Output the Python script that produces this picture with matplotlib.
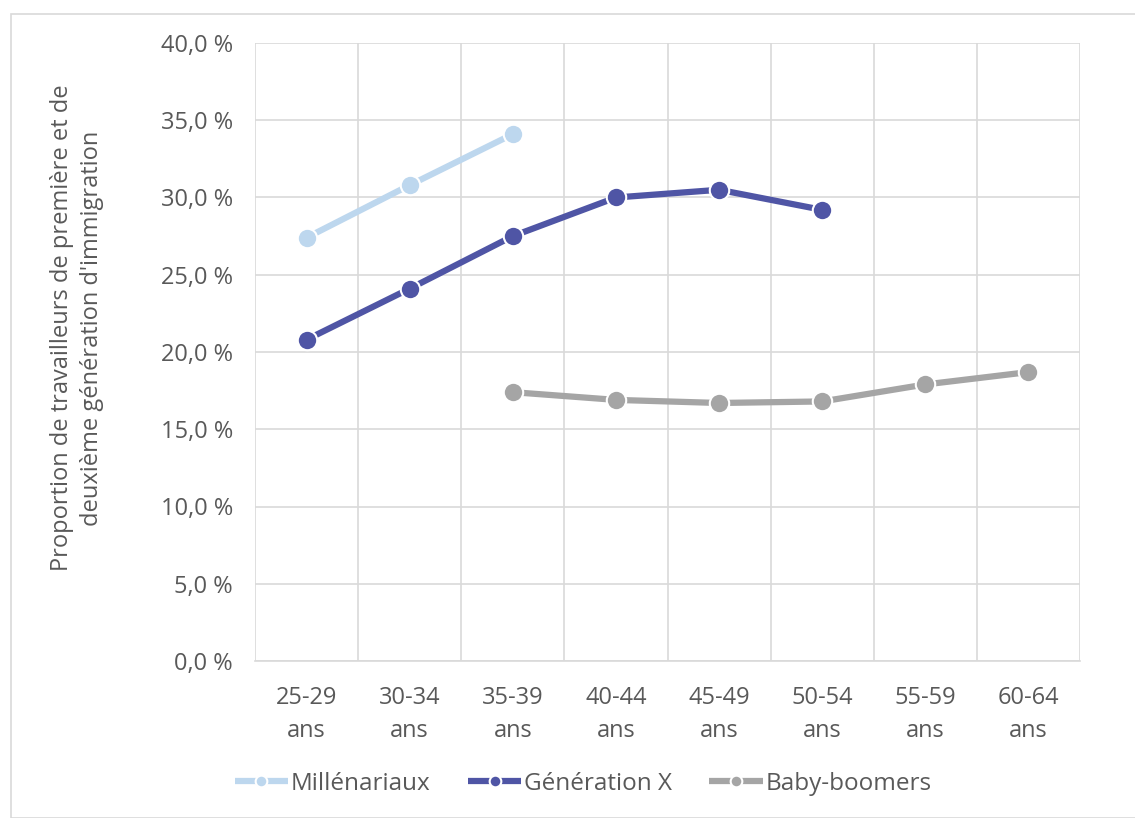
import matplotlib
matplotlib.use("Agg")
import matplotlib.pyplot as plt
from matplotlib.patches import Rectangle
from matplotlib.ticker import FixedLocator, FuncFormatter

plt.rcParams['font.family'] = ['Open Sans', 'DejaVu Sans']

categories = ["25-29\nans", "30-34\nans", "35-39\nans", "40-44\nans",
              "45-49\nans", "50-54\nans", "55-59\nans", "60-64\nans"]
millenariaux = [27.4, 30.8, 34.1]
generation_x = [20.8, 24.1, 27.5, 30.0, 30.5, 29.2]
baby_boomers = [17.4, 16.9, 16.7, 16.8, 17.9, 18.7]
bb_start = 2

series = [
    ("Millénariaux", list(range(len(millenariaux))), millenariaux, "#BDD7EE"),
    ("Génération X", list(range(len(generation_x))), generation_x, "#4F55A5"),
    ("Baby-boomers", list(range(bb_start, bb_start + len(baby_boomers))), baby_boomers, "#A5A5A5"),
]

text_color = "#595959"
grid_color = "#D9D9D9"
fs = 17

fig = plt.figure(figsize=(11.35, 8.18), dpi=100)
fig.patches.append(Rectangle((11 / 1135, 0), 1.0, 1 - 14 / 818, transform=fig.transFigure,
                             fill=False, edgecolor=grid_color, linewidth=1.2))
ax = fig.add_axes([255 / 1135, 1 - 661 / 818, 825 / 1135, 618 / 818])

for name, xs, ys, color in series:
    ax.plot(xs, ys, color=color, linewidth=4.5, marker="o", markersize=14,
            markerfacecolor=color, markeredgecolor="white", markeredgewidth=1.5,
            label=name, solid_capstyle="butt", zorder=3)

ax.set_xlim(-0.5, len(categories) - 0.5)
ax.set_ylim(0, 40)
ax.set_xticks(range(len(categories)))
ax.set_xticklabels(categories)
ax.xaxis.set_minor_locator(FixedLocator([i - 0.5 for i in range(len(categories) + 1)]))
ax.set_yticks(range(0, 41, 5))
ax.yaxis.set_major_formatter(FuncFormatter(lambda v, p: f"{v:.1f}".replace(".", ",") + " %"))

ax.grid(True, axis="y", which="major", color=grid_color, linewidth=1.2)
ax.grid(True, axis="x", which="minor", color=grid_color, linewidth=1.2)
ax.grid(False, axis="x", which="major")
ax.set_axisbelow(True)
for s in ["top", "right", "left"]:
    ax.spines[s].set_visible(False)
ax.spines["bottom"].set_color(grid_color)
ax.spines["bottom"].set_linewidth(1.2)
ax.tick_params(axis="both", which="both", length=0, labelsize=fs, colors=text_color)
ax.tick_params(axis="x", pad=18)
ax.tick_params(axis="y", pad=16)
for lbl in ax.get_xticklabels():
    lbl.set_linespacing(1.5)

fig.text(77 / 1135, 1 - 328 / 818,
         "Proportion de travailleurs de première et de\ndeuxième génération d'immigration",
         rotation=90, ha="center", va="center", fontsize=fs, color=text_color,
         linespacing=1.3)

leg = fig.legend(loc="center", bbox_to_anchor=(583 / 1135, 1 - 784 / 818), ncol=3,
                 frameon=False, fontsize=17.5, handlelength=2.2, handletextpad=0.1,
                 columnspacing=1.55, markerscale=0.6)
for t in leg.get_texts():
    t.set_color(text_color)

fig.savefig("out.png", dpi=100, facecolor="white")
